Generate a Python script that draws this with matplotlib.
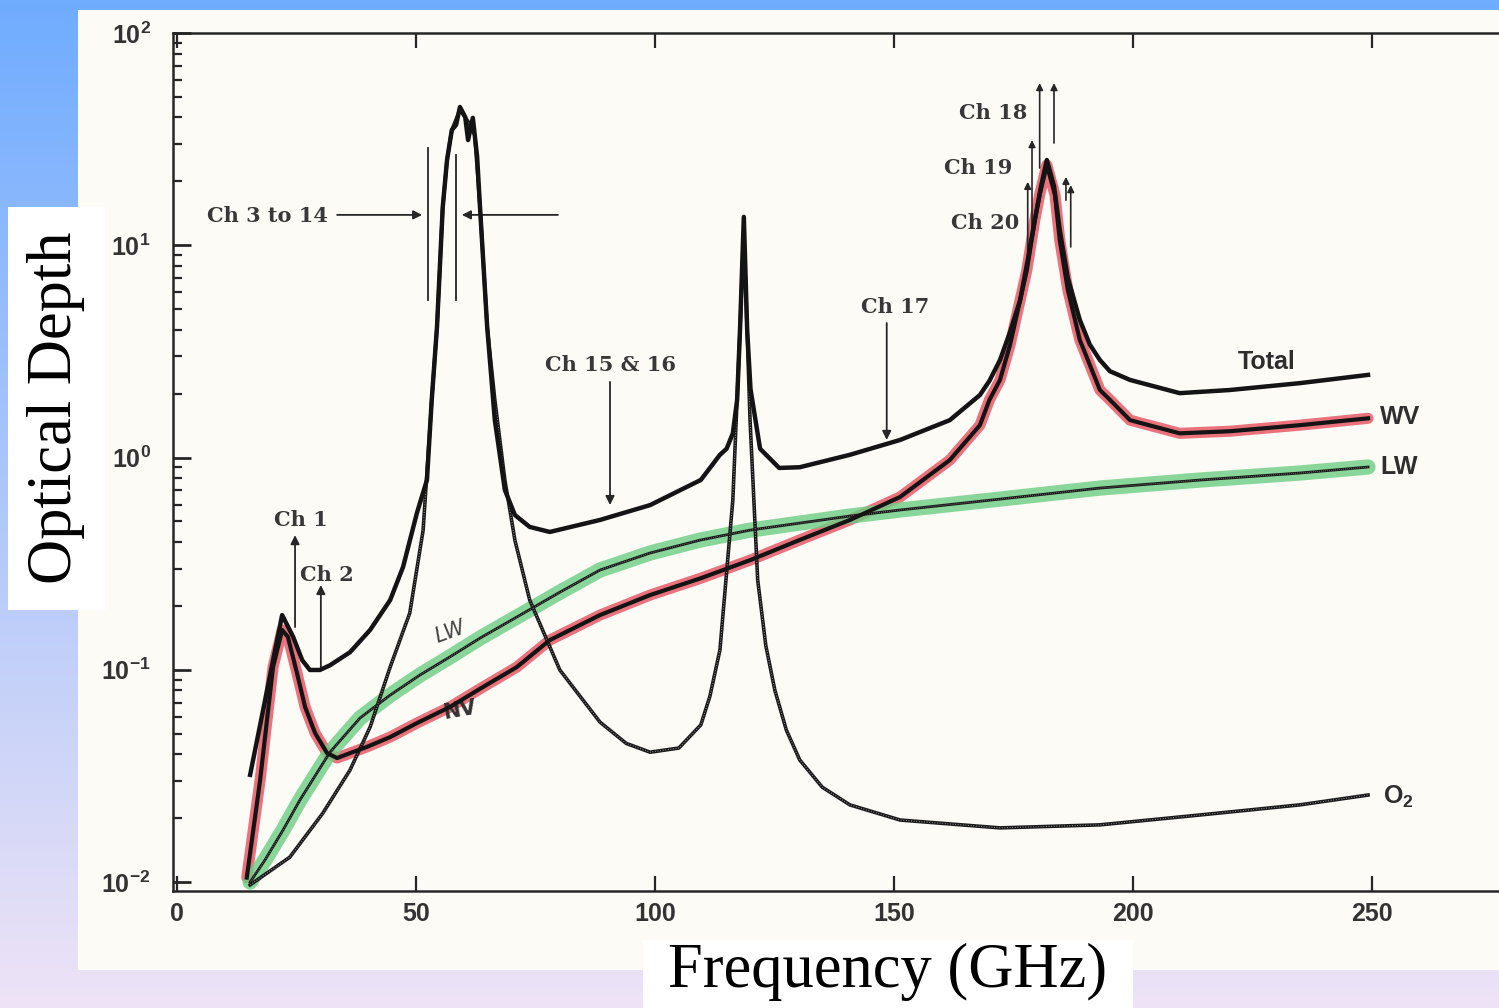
import numpy as np
import matplotlib
matplotlib.use("Agg")
import matplotlib.pyplot as plt
from matplotlib.patches import Rectangle
from matplotlib.ticker import LogLocator, NullFormatter

# ---- data (GHz, optical depth) ----
total_f = [15.3, 22.0, 24.3, 26.2, 27.8, 29.9, 32.0, 36.2, 40.4, 44.6, 47.3, 50.2, 52.3,
           53.3, 54.4, 55.6, 56.5, 57.5, 58.4, 59.2, 60.3, 60.9, 61.9, 62.8, 63.4, 64.9,
           66.5, 68.6, 70.7, 73.8, 78.0, 88.5, 99.0, 109.6, 113.6, 115.0, 116.3, 117.2,
           117.8, 118.6, 119.3, 120.0, 122.0, 126.0, 130.3, 140.8, 151.3, 161.7, 168.0,
           170.0, 172.2, 174.3, 176.4, 178.0, 179.5, 180.8, 182.0, 183.5, 184.7, 186.4,
           188.9, 191.0, 193.1, 195.2, 199.4, 209.8, 220.3, 234.9, 249.2]
total_tau = [0.032, 0.181, 0.143, 0.111, 0.0998, 0.0998, 0.105, 0.121, 0.154, 0.213, 0.305, 0.548, 0.784,
             1.87, 4.12, 15.1, 25.2, 34.9, 36.9, 44.8, 40.2, 31.3, 39.8, 26.1, 15.1, 4.12,
             1.5, 0.703, 0.536, 0.471, 0.446, 0.508, 0.597, 0.784, 1.03, 1.1, 1.3, 1.87,
             4.0, 13.6, 4.0, 2.1, 1.1, 0.893, 0.90, 1.03, 1.21, 1.50, 1.97,
             2.3, 2.88, 3.9, 5.5, 8.5, 13.2, 19.0, 25.2, 19.0, 11.8, 7.0,
             4.45, 3.4, 2.88, 2.55, 2.32, 2.01, 2.08, 2.24, 2.45]

wv_f = [14.6, 17.4, 20.1, 22.0, 23.2, 25.1, 26.8, 28.9, 31.4, 33.5, 36.2, 39.7, 44.6, 50.2,
        57.1, 64.0, 71.1, 78.0, 88.5, 99.0, 109.6, 120.0, 130.3, 140.8, 151.3, 161.7, 168.0,
        170.0, 172.2, 174.3, 176.4, 177.8, 179.5, 180.5, 182.0, 183.7, 184.7, 186.4, 188.9,
        191.0, 193.1, 195.2, 199.4, 209.8, 220.3, 234.9, 249.2]
wv_tau = [0.0105, 0.0303, 0.103, 0.154, 0.143, 0.0966, 0.0668, 0.0503, 0.0405, 0.0384, 0.0405,
          0.0433, 0.0482, 0.0561, 0.0668, 0.0829, 0.103, 0.138, 0.181, 0.225, 0.270, 0.329,
          0.409, 0.508, 0.652, 0.973, 1.42,
          1.87, 2.32, 3.39, 5.5, 7.6, 13.2, 17.3, 23.9, 17.3, 10.6, 6.15, 3.58,
          2.73, 2.08, 1.87, 1.50, 1.30, 1.33, 1.42, 1.53]

lw_f = [15.3, 18.4, 22.2, 25.7, 32.0, 38.3, 44.6, 50.8, 57.1, 63.4, 71.8, 80.1, 88.5, 99.0,
        109.4, 119.9, 130.3, 140.8, 151.3, 172.2, 193.1, 214.0, 234.9, 249.2]
lw_tau = [0.0100, 0.0127, 0.0176, 0.0243, 0.0409, 0.0593, 0.0760, 0.0944, 0.115, 0.141, 0.181,
          0.232, 0.295, 0.355, 0.408, 0.455, 0.491, 0.530, 0.566, 0.637, 0.718, 0.783, 0.845, 0.902]

o2_f = [15.3, 23.6, 30.5, 36.2, 40.4, 44.6, 48.7, 51.5, 53.3, 54.4, 55.6, 56.5, 57.5, 59.2,
        61.0, 62.3, 63.4, 64.9, 66.5, 68.6, 70.7, 73.8, 80.1, 88.5, 94.0, 99.0, 105.0, 109.6,
        111.5, 113.6, 116.3, 117.8, 118.6, 119.9, 121.5, 123.2, 125.1, 127.5, 130.3, 135.0,
        140.8, 151.3, 172.2, 193.1, 214.0, 234.9, 249.2]
o2_tau = [0.0097, 0.0131, 0.0211, 0.0337, 0.0537, 0.103, 0.185, 0.455, 1.87, 4.12, 15.1, 25.2,
          34.9, 43.4, 38.0, 33.1, 15.1, 4.12, 1.87, 0.784, 0.408, 0.213, 0.0998, 0.0567, 0.045,
          0.0409, 0.0428, 0.055, 0.075, 0.124, 0.631, 3.99, 11.8, 1.50, 0.265, 0.13, 0.080,
          0.052, 0.0376, 0.028, 0.0231, 0.0196, 0.0180, 0.0186, 0.0207, 0.0231, 0.0257]

x_ticks = [0, 50, 100, 150, 200, 250]
y_ticks = [0.01, 0.1, 1, 10, 100]
y_tick_labels = [r'$10^{-2}$', r'$10^{-1}$', r'$10^{0}$', r'$10^{1}$', r'$10^{2}$']

plt.rcParams['mathtext.fontset'] = 'custom'
plt.rcParams['mathtext.rm'] = 'Liberation Sans:bold'
plt.rcParams['mathtext.it'] = 'Liberation Sans:bold'
plt.rcParams['mathtext.bf'] = 'Liberation Sans:bold'

ink = '#262626'
fig = plt.figure(figsize=(14.99, 10.08), dpi=100)

# gradient slide background + scanned paper
bg = fig.add_axes([0, 0, 1, 1], zorder=-5)
top = np.array([112, 172, 255]) / 255
bot = np.array([238, 227, 246]) / 255
t = np.linspace(0, 1, 256)[:, None]
grad = (top[None, :] * (1 - t) + bot[None, :] * t)[:, None, :]
bg.imshow(grad, aspect='auto', extent=[0, 1, 0, 1])
bg.add_patch(Rectangle((78 / 1499, 1 - 970 / 1008), 1 - 78 / 1499, 960 / 1008,
                       facecolor='#fcfbf6', edgecolor='none'))
bg.set_xlim(0, 1)
bg.set_ylim(0, 1)
bg.axis('off')

ax = fig.add_axes([0.1154, 0.1161, 0.8986, 0.8512])
ax.set_facecolor('none')
ax.set_yscale('log')
ax.set_xlim(-0.84, 281)
ax.set_ylim(0.00908, 100)

# highlighter strokes
ax.plot(wv_f, wv_tau, color='#e85a68', lw=8, alpha=0.85, solid_capstyle='round', zorder=2)
ax.plot(lw_f, lw_tau, color='#6ccd84', lw=11, alpha=0.8, solid_capstyle='round', zorder=2)

# printed curves
ax.plot(total_f, total_tau, color='#141414', lw=3.2, solid_joinstyle='round', zorder=4)
ax.plot(wv_f, wv_tau, color='#141414', lw=3.0, solid_joinstyle='round', zorder=4)
for xs, ys, w in [(lw_f, lw_tau, 2.0), (o2_f, o2_tau, 2.6)]:
    ax.plot(xs, ys, color='#1a1a1a', lw=w, zorder=3)
    ax.plot(xs, ys, color='white', lw=w * 0.3, ls=(0, (0.8, 1.6)), alpha=0.55, zorder=3)

# axes styling
for s in ['left', 'bottom', 'top']:
    ax.spines[s].set_linewidth(1.8)
    ax.spines[s].set_color(ink)
ax.spines['right'].set_visible(False)
ax.set_xticks(x_ticks)
ax.set_xticklabels([str(v) for v in x_ticks])
ax.set_yticks(y_ticks)
ax.set_yticklabels(y_tick_labels)
ax.yaxis.set_minor_locator(LogLocator(base=10, subs=np.arange(2, 10), numticks=20))
ax.yaxis.set_minor_formatter(NullFormatter())
ax.yaxis.set_tick_params(which='major', direction='in', length=13, width=2.0,
                         color=ink, pad=16, left=True, right=False)
ax.yaxis.set_tick_params(which='minor', direction='in', length=6.5, width=1.6,
                         color=ink, left=True, right=False)
ax.xaxis.set_tick_params(which='major', direction='in', length=11, width=1.6,
                         color=ink, pad=8, top=True, bottom=True)
for lab in ax.get_xticklabels():
    lab.set_fontfamily('Liberation Sans')
    lab.set_fontweight('bold')
    lab.set_fontsize(18)
    lab.set_color('#333333')
for lab in ax.get_yticklabels():
    lab.set_fontsize(18)
    lab.set_color('#333333')

# channel annotations
chfont = dict(family='DejaVu Serif', fontsize=15, color='#383838', weight='bold')
arr = dict(arrowstyle='-|>', lw=1.3, color=ink, mutation_scale=13, shrinkA=0, shrinkB=0)
ax.text(25.9, 0.508, 'Ch 1', ha='center', va='center', **chfont)
ax.annotate('', xy=(24.7, 0.431), xytext=(24.7, 0.159), arrowprops=arr)
ax.text(31.4, 0.279, 'Ch 2', ha='center', va='center', **chfont)
ax.annotate('', xy=(30.1, 0.251), xytext=(30.1, 0.102), arrowprops=arr)

ax.text(31.6, 13.7, 'Ch 3 to 14', ha='right', va='center', **chfont)
ax.annotate('', xy=(51.3, 13.9), xytext=(33.5, 13.9), arrowprops=arr)
ax.annotate('', xy=(59.6, 13.9), xytext=(79.7, 13.9), arrowprops=arr)
ax.plot([52.5, 52.5], [5.5, 28.7], color=ink, lw=1.3)
ax.plot([58.4, 58.4], [5.5, 26.6], color=ink, lw=1.3)

ax.text(90.6, 2.73, 'Ch 15 & 16', ha='center', va='center', **chfont)
ax.annotate('', xy=(90.6, 0.597), xytext=(90.6, 2.27), arrowprops=arr)
ax.text(150.2, 5.12, 'Ch 17', ha='center', va='center', **chfont)
ax.annotate('', xy=(148.5, 1.21), xytext=(148.5, 4.30), arrowprops=arr)

ax.text(170.7, 42.0, 'Ch 18', ha='center', va='center', **chfont)
ax.text(167.6, 23.1, 'Ch 19', ha='center', va='center', **chfont)
ax.text(169.0, 12.7, 'Ch 20', ha='center', va='center', **chfont)
for xa, y0, y1 in [(180.5, 23.1, 58.1), (183.5, 30.3, 58.1), (178.9, 11.4, 31.3),
                   (178.0, 8.24, 19.9), (186.0, 16.3, 21.0), (187.0, 9.82, 19.2)]:
    ax.annotate('', xy=(xa, y1), xytext=(xa, y0),
                arrowprops=dict(arrowstyle='-|>', lw=1.2, color=ink, mutation_scale=10,
                                shrinkA=0, shrinkB=0))

# curve labels
lab = dict(family='Liberation Sans', fontsize=18, weight='bold', color='#2e2e2e')
ax.text(228, 2.82, 'Total', ha='center', va='center', **lab)
ax.text(251.7, 1.55, 'WV', ha='left', va='center', **lab)
ax.text(251.7, 0.902, 'LW', ha='left', va='center', **lab)
ax.text(252.3, 0.0251, r'O$_2$', ha='left', va='center', **lab)
ax.text(57.1, 0.151, 'LW', ha='center', va='center', rotation=20, fontsize=15,
        style='italic', color='#444444', family='DejaVu Sans')
ax.text(59.2, 0.0646, 'NV', ha='center', va='center', rotation=10, fontsize=15,
        weight='bold', color='#333333', family='DejaVu Sans')

# slide axis titles in white boxes
fig.add_artist(Rectangle((8 / 1499, 1 - 610 / 1008), 97 / 1499, 403 / 1008,
                         transform=fig.transFigure, facecolor='white', edgecolor='none', zorder=5))
fig.text(56 / 1499, 1 - 408 / 1008, 'Optical Depth', rotation=90, ha='center', va='center',
         family='Liberation Serif', fontsize=45, zorder=6)
fig.add_artist(Rectangle((643 / 1499, 0), 490 / 1499, 68 / 1008,
                         transform=fig.transFigure, facecolor='white', edgecolor='none', zorder=5))
fig.text(888 / 1499, 1 - 972 / 1008, 'Frequency (GHz)', ha='center', va='center',
         family='Liberation Serif', fontsize=45, zorder=6)

fig.savefig('out.png', dpi=100)
